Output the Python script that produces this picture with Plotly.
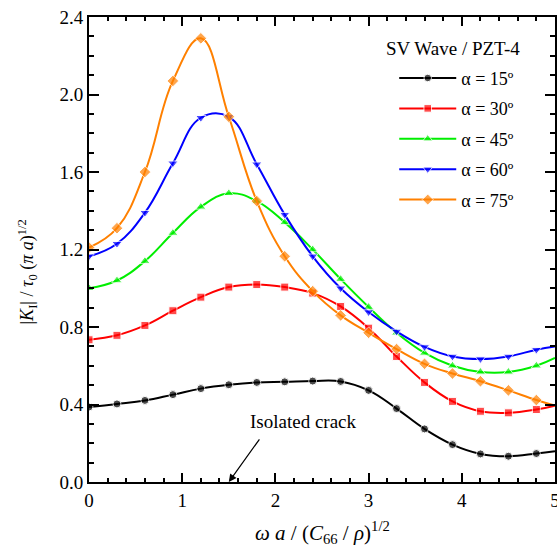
import plotly.graph_objects as go

# ---- data ----
x_vals = [0, 0.3, 0.6, 0.9, 1.2, 1.5, 1.8, 2.1, 2.4, 2.7, 3.0, 3.3, 3.6, 3.9, 4.2, 4.5, 4.8, 5.0]
k_15 = [0.387, 0.403, 0.421, 0.451, 0.482, 0.502, 0.514, 0.517, 0.521, 0.519, 0.473, 0.379, 0.274, 0.193, 0.145, 0.133, 0.147, 0.159]
k_30 = [0.734, 0.757, 0.808, 0.884, 0.954, 1.006, 1.019, 1.006, 0.975, 0.906, 0.794, 0.648, 0.514, 0.416, 0.365, 0.357, 0.374, 0.394]
k_45 = [1.000, 1.040, 1.140, 1.285, 1.420, 1.490, 1.450, 1.340, 1.200, 1.047, 0.903, 0.770, 0.666, 0.600, 0.568, 0.568, 0.600, 0.640]
k_60 = [1.165, 1.230, 1.390, 1.645, 1.880, 1.885, 1.640, 1.380, 1.165, 1.000, 0.877, 0.777, 0.697, 0.648, 0.635, 0.648, 0.683, 0.700]
k_75 = [1.210, 1.310, 1.600, 2.070, 2.290, 1.885, 1.450, 1.165, 0.985, 0.860, 0.770, 0.686, 0.610, 0.560, 0.520, 0.473, 0.423, 0.394]

series_names = ["α = 15º", "α = 30º", "α = 45º", "α = 60º", "α = 75º"]
series_vals = [k_15, k_30, k_45, k_60, k_75]
colors = ["#000000", "#ff0000", "#00ee00", "#0000ff", "#ff8000"]
symbols = ["circle", "square", "triangle-up", "triangle-down", "diamond"]
msizes = [8, 8, 9, 9, 9]
legend_title = "SV Wave / PZT-4"

FONT = "Liberation Serif"

fig = go.Figure()
for name, vals, col, sym, ms in zip(series_names, series_vals, colors, symbols, msizes):
    sizes = [ms] * (len(x_vals) - 1) + [0]
    fig.add_trace(go.Scatter(
        x=x_vals, y=vals, name=name, mode="lines+markers",
        line=dict(color=col, width=2, shape="spline", smoothing=1.2),
        marker=dict(symbol=sym, size=sizes, color=col),
        legendgroup=name,
    ))

axis_common = dict(
    showline=True, linecolor="black", linewidth=2, mirror="ticks",
    ticks="inside", tickwidth=2, tickcolor="black",
    showgrid=False, zeroline=False, ticklabeloverflow="allow", automargin=False,
    tickfont=dict(family=FONT, size=19, color="black"),
)

fig.update_xaxes(range=[0, 5], dtick=1, ticklen=9,
                 minor=dict(dtick=0.2, ticklen=4, ticks="inside", tickwidth=1.5, tickcolor="black"),
                 **axis_common)
fig.update_yaxes(range=[0, 2.4], dtick=0.4, tickformat=".1f", ticklen=10,
                 minor=dict(dtick=0.1, ticklen=5, ticks="inside", tickwidth=1.5, tickcolor="black"),
                 **axis_common)

fig.add_annotation(
    x=0.5, y=-0.108, xref="paper", yref="paper", xanchor="center", yanchor="middle",
    text="<i>ω a</i> / (<i>C</i><sub>66</sub> / <i>ρ</i>)<sup>1/2</sup>",
    showarrow=False, font=dict(family=FONT, size=21, color="black"),
)
fig.add_annotation(
    x=-0.1316, y=0.452, xref="paper", yref="paper", xanchor="center", yanchor="middle",
    text="|<i>K</i><sub>I</sub>| / <i>τ</i><sub>0</sub> (<i>π a</i>)<sup>1/2</sup>",
    textangle=-90, showarrow=False, font=dict(family=FONT, size=18, color="black"),
)
fig.add_annotation(
    x=1.5, y=0.0, ax=1.84, ay=0.228, xref="x", yref="y", axref="x", ayref="y",
    text="", showarrow=True, arrowhead=2, arrowsize=1.3, arrowwidth=1.2, arrowcolor="black",
)
fig.add_annotation(
    x=2.30, y=0.313, xref="x", yref="y", text="Isolated crack",
    showarrow=False, font=dict(family=FONT, size=19, color="black"),
)
fig.add_annotation(
    x=0.781, y=0.932, xref="paper", yref="paper", xanchor="center", yanchor="middle",
    text=legend_title, showarrow=False, font=dict(family=FONT, size=19, color="black"),
)

fig.update_layout(
    width=557, height=547,
    margin=dict(l=89, r=2, t=17, b=65),
    paper_bgcolor="white", plot_bgcolor="white",
    showlegend=True,
    legend=dict(
        x=0.655, y=0.908, xanchor="left", yanchor="top",
        bgcolor="rgba(0,0,0,0)", borderwidth=0,
        font=dict(family=FONT, size=18, color="black"),
        tracegroupgap=4, itemwidth=57,
    ),
    font=dict(family=FONT, color="black"),
)

fig.write_html("out.html", config={"displayModeBar": False},
               post_script="document.body.style.margin='0px';document.body.style.overflow='hidden';")
